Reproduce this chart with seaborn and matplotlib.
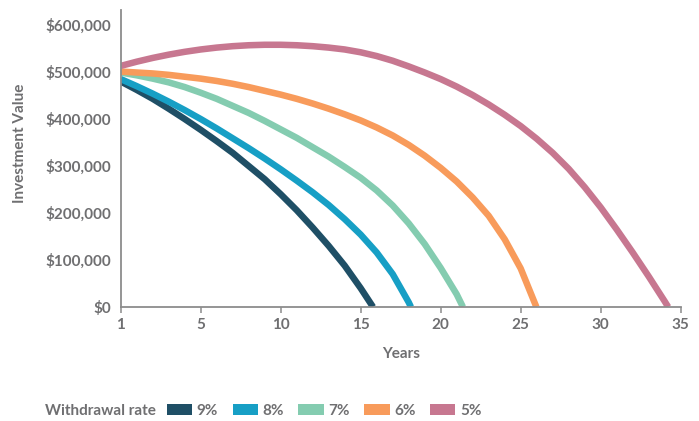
import matplotlib
matplotlib.use("Agg")
import matplotlib.pyplot as plt
from matplotlib.patches import Patch
import pandas as pd
import seaborn as sns

# Portfolio value (in $1,000s) at each year, ending when the money runs out
rates = ["9%", "8%", "7%", "6%", "5%"]
colors = ["#1f4f66", "#179fc5", "#84ccb0", "#f89b5b", "#c77790"]

value_9 = [480, 462, 443, 422, 400, 377, 353, 328, 300, 272, 240, 206, 169, 130, 88, 40, 0]
value_8 = [485, 470, 454, 437, 419, 400, 380, 359, 338, 316, 293, 269, 244, 217, 187, 154, 116, 70, 10, 0]
value_7 = [499, 493, 486, 478, 468, 456, 443, 428, 413, 396, 378, 360, 340, 320, 298, 275, 248, 216, 178, 134, 83, 27, 0]
value_6 = [501, 499, 497, 494, 490, 486, 481, 475, 468, 460, 452, 443, 433, 422, 410, 397, 382, 365, 345, 322, 296, 267, 233, 194, 144, 82, 0]
value_5 = [513, 522, 530, 537, 543, 548, 552, 555, 557, 558, 558, 557, 555, 552, 548, 542, 534, 524, 512, 499, 485, 469, 451, 431, 409, 385, 358, 328, 294, 255, 212, 165, 116, 65, 12, 0]

# Year in which each portfolio is exhausted
depletion = {"9%": 15.77, "8%": 18.14, "7%": 21.39, "6%": 25.98, "5%": 34.22}
series = {"9%": value_9, "8%": value_8, "7%": value_7, "6%": value_6, "5%": value_5}

x_ticks = [0, 5, 10, 15, 20, 25, 30, 35]
x_tick_labels = ["1", "5", "10", "15", "20", "25", "30", "35"]
y_ticks = [0, 100000, 200000, 300000, 400000, 500000, 600000]
y_tick_labels = ["$0", "$100,000", "$200,000", "$300,000", "$400,000", "$500,000", "$600,000"]

rows = []
for rate in rates:
    vals = series[rate]
    years = list(range(len(vals) - 1)) + [depletion[rate]]
    for yr, v in zip(years, vals):
        rows.append({"year": yr, "value": v * 1000, "rate": rate})
df = pd.DataFrame(rows)

sns.set_theme(style="white")
plt.rcParams["font.family"] = ["Lato", "DejaVu Sans"]

text_color = "#6f6f71"
axis_color = "#8c8c8c"
fs = 11

fig = plt.figure(figsize=(6.99, 4.21), dpi=100)
ax = fig.add_axes([120.7 / 699, 114 / 421, 560 / 699, 297 / 421])

sns.lineplot(data=df, x="year", y="value", hue="rate", hue_order=rates,
             palette=colors, linewidth=4.7, estimator=None, sort=False,
             legend=False, ax=ax, solid_capstyle="butt", solid_joinstyle="round")

ax.set_xlim(0, 35)
ax.set_ylim(0, 632000)
ax.set_xticks(x_ticks)
ax.set_xticklabels(x_tick_labels)
ax.set_yticks(y_ticks)
ax.set_yticklabels(y_tick_labels)

sns.despine(ax=ax)
for side in ["left", "bottom"]:
    ax.spines[side].set_color(axis_color)
    ax.spines[side].set_linewidth(1.3)

ax.tick_params(axis="x", length=4, width=1.1, color=axis_color, pad=4,
               labelsize=fs, labelcolor=text_color, bottom=True)
ax.tick_params(axis="y", length=0, pad=7, labelsize=fs, labelcolor=text_color)
for lab in ax.get_xticklabels() + ax.get_yticklabels():
    lab.set_fontweight("bold")

ax.set_xlabel("Years", fontsize=fs, color=text_color, fontweight="bold")
ax.set_ylabel("Investment Value", fontsize=fs, color=text_color, fontweight="bold")
ax.xaxis.set_label_coords(0.5, -0.135)
ax.yaxis.set_label_coords(-0.167, 0.55)

legend_y = 1 - 411 / 421
fig.text(45 / 699, legend_y, "Withdrawal rate", ha="left", va="center",
         fontsize=fs, color=text_color, fontweight="bold")
handles = [Patch(facecolor=c, edgecolor="none") for c in colors]
leg = fig.legend(handles, rates, loc="center left", bbox_to_anchor=(167 / 699, legend_y),
                 ncol=5, frameon=False, handlelength=1.65, handleheight=0.75,
                 handletextpad=0.3, columnspacing=0.95, borderpad=0, borderaxespad=0,
                 fontsize=fs)
for t in leg.get_texts():
    t.set_color(text_color)
    t.set_fontweight("bold")

fig.savefig("out.png", dpi=100)
